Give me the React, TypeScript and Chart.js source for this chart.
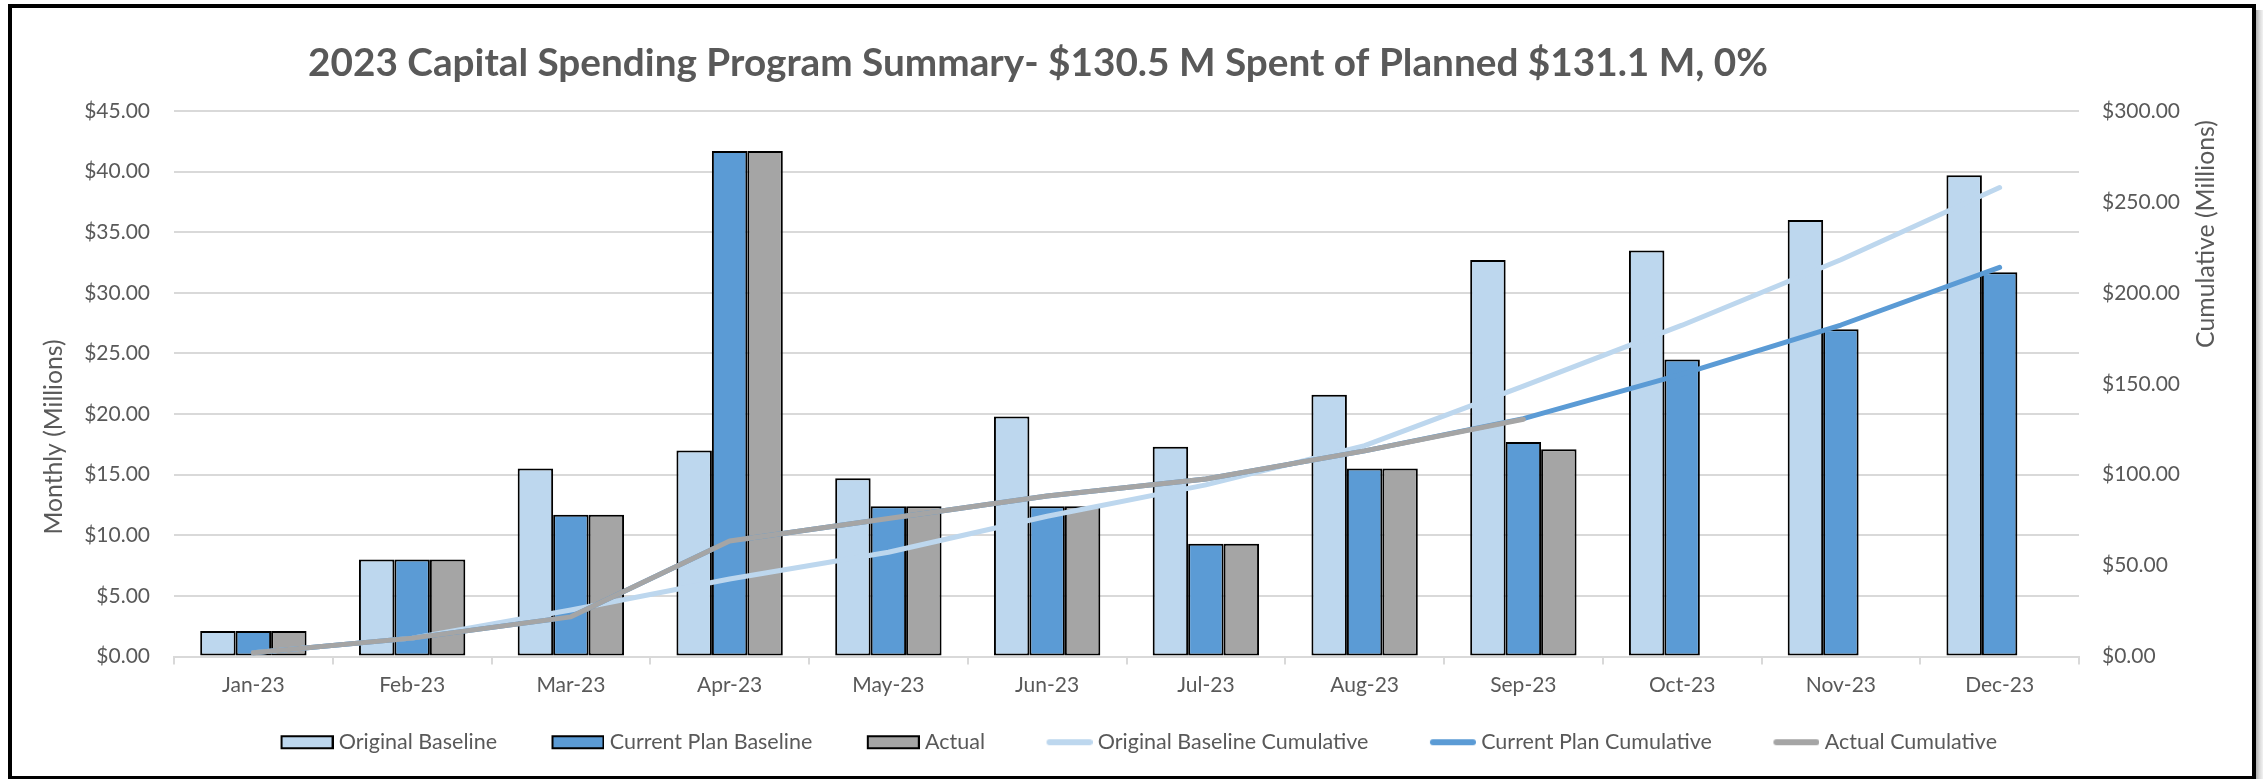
import React, { useEffect, useRef } from 'react';
import { Chart, registerables } from 'chart.js';

Chart.register(...registerables);

// ---------- data ----------
const months = ['Jan-23', 'Feb-23', 'Mar-23', 'Apr-23', 'May-23', 'Jun-23', 'Jul-23', 'Aug-23', 'Sep-23', 'Oct-23', 'Nov-23', 'Dec-23'];
const originalBaseline = [2.1, 8.0, 15.5, 17.0, 14.7, 19.8, 17.3, 21.6, 32.7, 33.5, 36.0, 39.7];
const currentPlanBaseline = [2.1, 8.0, 11.7, 41.7, 12.4, 12.4, 9.3, 15.5, 17.7, 24.5, 27.0, 31.7];
const actual = [2.1, 8.0, 11.7, 41.7, 12.4, 12.4, 9.3, 15.5, 17.1, null, null, null];
const originalBaselineCumulative = [2.1, 10.1, 25.6, 42.6, 57.3, 77.1, 94.4, 116.0, 148.7, 182.2, 218.2, 257.9];
const currentPlanCumulative = [2.1, 10.1, 21.8, 63.5, 75.9, 88.3, 97.6, 113.1, 130.8, 155.3, 182.3, 214.0];
const actualCumulative = [2.1, 10.1, 21.8, 63.5, 75.9, 88.3, 97.6, 113.1, 130.5, null, null, null];

const monthlyAxis = { min: 0, max: 45, step: 5 };
const cumulativeAxis = { min: 0, max: 300, step: 50 };

const TITLE = '2023 Capital Spending Program Summary- $130.5 M Spent of Planned $131.1 M, 0%';
const LEFT_TITLE = 'Monthly (Millions)';
const RIGHT_TITLE = 'Cumulative (Millions)';

const seriesLabels = ['Original Baseline', 'Current Plan Baseline', 'Actual', 'Original Baseline Cumulative', 'Current Plan Cumulative', 'Actual Cumulative'];
const seriesColors = ['#BDD7EE', '#5B9BD5', '#A5A5A5', '#BDD7EE', '#5B9BD5', '#A5A5A5'];

// ---------- style constants ----------
const W = 2267;
const H = 779;
const FONT = 'Lato';
const TEXT = '#595959';
const GRID = '#D9D9D9';
const LEG_FONT = 21.5;
const LEG_PAD = 10;
const LEG_BOX = 92;
const OVER = 5.5;
const PAD_RIGHT = 34;
const PLOT_RIGHT = 2079;

function fmt(v: number) {
  return '$' + Number(v).toFixed(2);
}

function makeBarIcon(color: string) {
  const c = document.createElement('canvas');
  c.width = LEG_BOX + OVER * 2;
  c.height = 20;
  const g = c.getContext('2d')!;
  const w = 53, h = 14;
  const x0 = c.width - w;
  const y0 = (c.height - h) / 2;
  g.fillStyle = '#000';
  g.fillRect(x0, y0, w, h);
  g.fillStyle = color;
  g.fillRect(x0 + 2, y0 + 2, w - 4, h - 4);
  return c;
}

function makeLineIcon(color: string) {
  const c = document.createElement('canvas');
  c.width = LEG_BOX + OVER * 2;
  c.height = 20;
  const g = c.getContext('2d')!;
  g.strokeStyle = color;
  g.lineWidth = 6;
  g.lineCap = 'round';
  g.beginPath();
  g.moveTo(c.width - 46 + 3, 10);
  g.lineTo(c.width - 3, 10);
  g.stroke();
  return c;
}

function fitFont(ctx: CanvasRenderingContext2D, text: string, weight: string, target: number) {
  ctx.font = `${weight} 40px ${FONT}`;
  const w = ctx.measureText(text).width;
  const size = (40 * target) / w;
  return `${weight} ${size.toFixed(2)}px ${FONT}`;
}

const textPlugin = {
  id: 'customTexts',
  afterDraw(chart: any) {
    const ctx: CanvasRenderingContext2D = chart.ctx;
    ctx.save();
    ctx.fillStyle = TEXT;
    ctx.textBaseline = 'alphabetic';
    ctx.textAlign = 'center';
    // chart title
    ctx.font = fitFont(ctx, TITLE, 'bold', 1460);
    ctx.fillText(TITLE, 1038, 76);
    // left axis title
    ctx.save();
    ctx.font = fitFont(ctx, LEFT_TITLE, 'normal', 195);
    ctx.translate(62, 437);
    ctx.rotate(-Math.PI / 2);
    ctx.fillText(LEFT_TITLE, 0, 0);
    ctx.restore();
    // right axis title
    ctx.save();
    ctx.font = fitFont(ctx, RIGHT_TITLE, 'normal', 228);
    ctx.translate(2214, 234);
    ctx.rotate(-Math.PI / 2);
    ctx.fillText(RIGHT_TITLE, 0, 0);
    ctx.restore();
    ctx.restore();
  },
};

export default function App() {
  const ref = useRef<HTMLCanvasElement | null>(null);

  useEffect(() => {
    if (!ref.current) return;
    const icons = seriesColors.map((c, i) => (i < 3 ? makeBarIcon(c) : makeLineIcon(c)));

    const barDs = (i: number, data: (number | null)[]) => ({
      type: 'bar' as const,
      label: seriesLabels[i],
      data,
      backgroundColor: seriesColors[i],
      borderColor: '#000000',
      borderWidth: 2,
      borderSkipped: false,
      yAxisID: 'y',
      order: 4 + i,
      barPercentage: 1,
      categoryPercentage: 0.67,
    });
    const lineDs = (i: number, data: (number | null)[], order: number) => ({
      type: 'line' as const,
      label: seriesLabels[i],
      data,
      borderColor: seriesColors[i],
      backgroundColor: seriesColors[i],
      borderWidth: 5,
      pointRadius: 0,
      pointHoverRadius: 0,
      borderCapStyle: 'round' as const,
      borderJoinStyle: 'round' as const,
      tension: 0,
      fill: false,
      yAxisID: 'y1',
      order,
    });

    const chart = new Chart(ref.current, {
      data: {
        labels: months,
        datasets: [
          barDs(0, originalBaseline),
          barDs(1, currentPlanBaseline),
          barDs(2, actual),
          lineDs(3, originalBaselineCumulative, 3),
          lineDs(4, currentPlanCumulative, 2),
          lineDs(5, actualCumulative, 1),
        ] as any,
      },
      options: {
        animation: false,
        responsive: false,
        maintainAspectRatio: false,
        layout: { padding: { top: 111, bottom: 16, left: 0, right: PAD_RIGHT } },
        plugins: {
          title: { display: false },
          tooltip: { enabled: false },
          legend: {
            position: 'bottom',
            labels: {
              usePointStyle: true,
              pointStyleWidth: LEG_BOX,
              padding: LEG_PAD,
              color: TEXT,
              font: { family: FONT, size: LEG_FONT },
              generateLabels: (ch: any) =>
                ch.data.datasets.map((ds: any, i: number) => ({
                  text: ds.label,
                  fillStyle: seriesColors[i],
                  strokeStyle: seriesColors[i],
                  lineWidth: 0,
                  hidden: !ch.isDatasetVisible(i),
                  datasetIndex: i,
                  pointStyle: icons[i],
                  fontColor: TEXT,
                })),
            },
          },
        },
        scales: {
          x: {
            offset: true,
            grid: { display: true, drawOnChartArea: false, drawTicks: true, tickLength: 8, color: GRID, lineWidth: 2, offset: true },
            border: { display: true, color: GRID, width: 2 },
            ticks: { color: TEXT, font: { family: FONT, size: 21 }, padding: 8, maxRotation: 0, autoSkip: false },
            afterFit: (s: any) => {
              s.height = 65;
            },
          },
          y: {
            position: 'left',
            min: monthlyAxis.min,
            max: monthlyAxis.max,
            ticks: { stepSize: monthlyAxis.step, callback: (v: any) => fmt(v), padding: 24, color: TEXT, font: { family: FONT, size: 21 } },
            grid: { color: GRID, lineWidth: 2, drawTicks: false },
            border: { display: false },
            afterFit: (s: any) => {
              s.width = 174;
            },
          },
          y1: {
            position: 'right',
            min: cumulativeAxis.min,
            max: cumulativeAxis.max,
            ticks: { stepSize: cumulativeAxis.step, callback: (v: any) => fmt(v), padding: 23, color: TEXT, font: { family: FONT, size: 21 } },
            grid: { drawOnChartArea: false, drawTicks: false },
            border: { display: false },
            afterFit: (s: any) => {
              s.width = W - PLOT_RIGHT - PAD_RIGHT;
            },
          },
        },
      } as any,
      plugins: [textPlugin],
    });
    return () => chart.destroy();
  }, []);

  return (
    <div style={{ position: 'absolute', left: 0, top: 0, width: W, height: H, background: '#fff', overflow: 'hidden' }}>
      <div style={{ position: 'absolute', left: 8, top: 4, width: 2248, height: 776, border: '4px solid #000', boxSizing: 'border-box' }} />
      <div style={{ position: 'absolute', left: 2256, top: 10, width: 7, height: 770, background: 'linear-gradient(to right, #b0b0b0, #d8d8d8, #f2f2f2)' }} />
      <canvas ref={ref} width={W} height={H} style={{ position: 'absolute', left: 0, top: 0, width: W, height: H }} />
    </div>
  );
}
